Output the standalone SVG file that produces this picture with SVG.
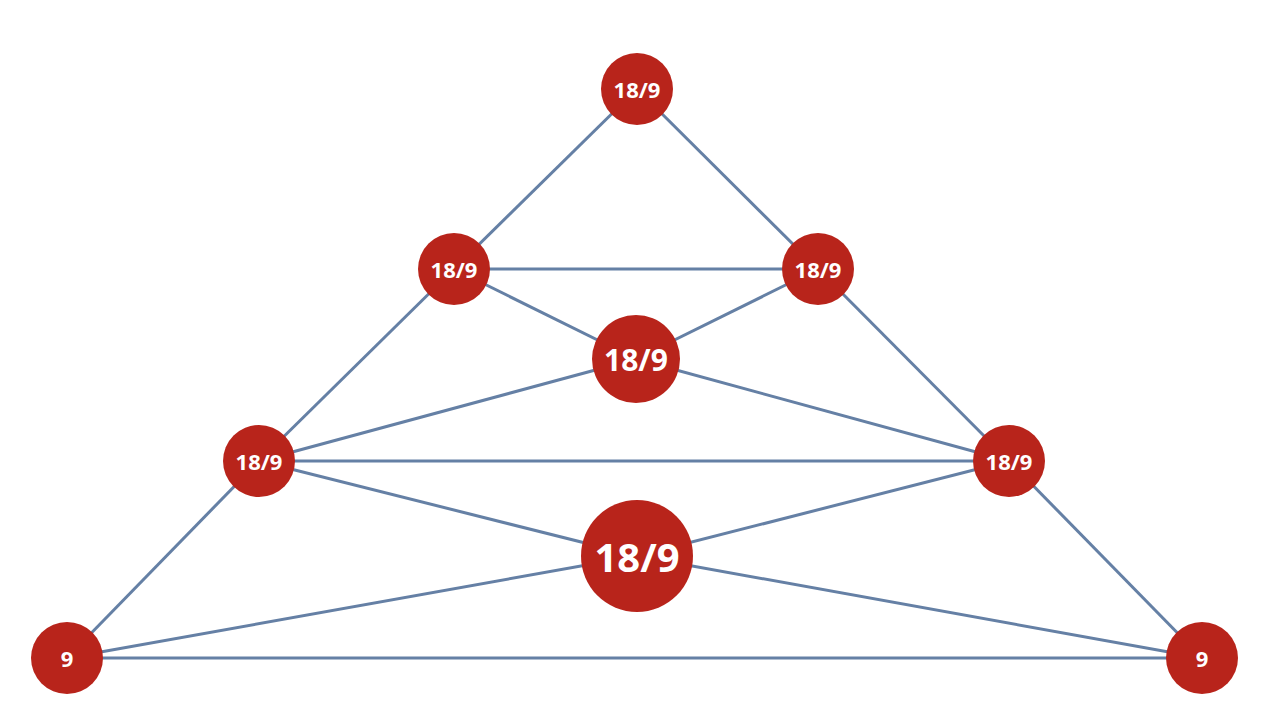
<svg xmlns="http://www.w3.org/2000/svg" width="1270" height="724" viewBox="0 0 1270 724">
<style>
.e{stroke:#6580A5;stroke-width:3;fill:none}
.n{fill:#B8241B}
.t{fill:#fff;font-family:"Open Sans","Liberation Sans",sans-serif;font-weight:bold;text-anchor:middle;dominant-baseline:central}
</style>
<rect width="1270" height="724" fill="#fff"/>
<g id="connectors">
<line class="e" x1="637" y1="89" x2="454" y2="269"/>
<line class="e" x1="637" y1="89" x2="818" y2="269"/>
<line class="e" x1="454" y1="269" x2="818" y2="269"/>
<line class="e" x1="454" y1="269" x2="636" y2="359"/>
<line class="e" x1="818" y1="269" x2="636" y2="359"/>
<line class="e" x1="454" y1="269" x2="259" y2="461"/>
<line class="e" x1="818" y1="269" x2="1009" y2="461"/>
<line class="e" x1="636" y1="359" x2="259" y2="461"/>
<line class="e" x1="636" y1="359" x2="1009" y2="461"/>
<line class="e" x1="259" y1="461" x2="1009" y2="461"/>
<line class="e" x1="259" y1="461" x2="637" y2="556"/>
<line class="e" x1="1009" y1="461" x2="637" y2="556"/>
<line class="e" x1="259" y1="461" x2="67" y2="658"/>
<line class="e" x1="1009" y1="461" x2="1202" y2="658"/>
<line class="e" x1="637" y1="556" x2="67" y2="658"/>
<line class="e" x1="637" y1="556" x2="1202" y2="658"/>
<line class="e" x1="67" y1="658" x2="1202" y2="658"/>
</g>
<g id="n-top"><circle class="n" cx="637" cy="89" r="36"/><text class="t" x="637" y="89" font-size="22">18/9</text></g>
<g id="n-l1"><circle class="n" cx="454" cy="269" r="36"/><text class="t" x="454" y="269" font-size="22">18/9</text></g>
<g id="n-r1"><circle class="n" cx="818" cy="269" r="36"/><text class="t" x="818" y="269" font-size="22">18/9</text></g>
<g id="n-m1"><circle class="n" cx="636" cy="359" r="44"/><text class="t" x="636" y="359" font-size="30">18/9</text></g>
<g id="n-l2"><circle class="n" cx="259" cy="461" r="36"/><text class="t" x="259" y="461" font-size="22">18/9</text></g>
<g id="n-r2"><circle class="n" cx="1009" cy="461" r="36"/><text class="t" x="1009" y="461" font-size="22">18/9</text></g>
<g id="n-m2"><circle class="n" cx="637" cy="556" r="56"/><text class="t" x="637" y="556" font-size="40">18/9</text></g>
<g id="n-bl"><circle class="n" cx="67" cy="658" r="36"/><text class="t" x="67" y="658" font-size="22">9</text></g>
<g id="n-br"><circle class="n" cx="1202" cy="658" r="36"/><text class="t" x="1202" y="658" font-size="22">9</text></g>
</svg>
